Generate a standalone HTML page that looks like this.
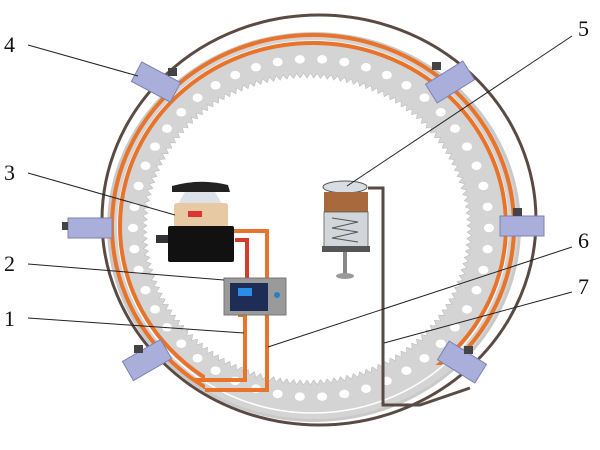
<!DOCTYPE html>
<html><head><meta charset="utf-8"><style>
html,body{margin:0;padding:0;background:#fff;width:600px;height:450px;overflow:hidden}
svg{display:block}
text{font-family:"Liberation Serif",serif;font-size:22px;fill:#111}
</style></head><body>
<svg id="s" width="600" height="450" viewBox="0 0 600 450" xmlns="http://www.w3.org/2000/svg">
<defs><clipPath id="cp"><path d="M0 0 H600 V365 H205 V450 H0 Z"/></clipPath></defs>
<rect width="600" height="450" fill="#fff"/>
<ellipse cx="319" cy="220" rx="217" ry="205" fill="none" stroke="#5a4a44" stroke-width="3"/>
<ellipse cx="314" cy="227" rx="207" ry="195" fill="#c9c9c9"/>
<ellipse cx="314" cy="227" rx="204" ry="192" fill="#d4d4d4"/>
<ellipse cx="313" cy="227" rx="195" ry="186" fill="none" stroke="#fff" stroke-width="1.5"/>
<g id="holes"></g>
<path id="teeth" fill="#fff" stroke="#bdbdbd" stroke-width="0.6"/>
<g fill="none" stroke="#e8732a" stroke-width="4">
<g clip-path="url(#cp)">
<ellipse cx="313" cy="226" rx="201" ry="191"/>
<ellipse cx="313" cy="226" rx="193" ry="183"/>
</g>
<path d="M238 315 L245 315 L245 380 L195 380"/>
<path d="M233 231 L267 231 L267 390 L205 390"/>
</g>
<path d="M235 240 L247 240 L247 280" fill="none" stroke="#d63a2a" stroke-width="4"/>
<path d="M368 188 L383 188 L383 405 L420 405 L470 388" fill="none" stroke="#5a4a44" stroke-width="3"/>
<g fill="#a9aedb" stroke="#7d82b0" stroke-width="1">
<rect x="-22" y="-11" width="44" height="22" transform="translate(156,82) rotate(28)"/>
<rect x="-22" y="-11" width="44" height="22" transform="translate(450,82) rotate(-32)"/>
<rect x="-22" y="-10" width="44" height="20" transform="translate(90,228)"/>
<rect x="-22" y="-10" width="44" height="20" transform="translate(522,226)"/>
<rect x="-22" y="-11" width="44" height="22" transform="translate(147,360) rotate(-30)"/>
<rect x="-22" y="-11" width="44" height="22" transform="translate(462,362) rotate(32)"/>
</g>
<g fill="#444">
<rect x="168" y="68" width="9" height="8"/><rect x="432" y="62" width="9" height="8"/>
<rect x="513" y="208" width="9" height="8"/><rect x="134" y="345" width="9" height="8"/>
<rect x="464" y="346" width="9" height="8"/><rect x="62" y="222" width="6" height="8"/>
</g>
<path d="M172 186 Q200 178 228 185 L230 192 L172 192 Z" fill="#222"/>
<path d="M185 192 L215 192 L222 204 L178 204 Z" fill="#dde2ea"/>
<rect x="174" y="203" width="54" height="25" rx="3" fill="#e7c9a4"/>
<rect x="188" y="211" width="14" height="6" fill="#d33"/>
<rect x="168" y="226" width="66" height="36" rx="2" fill="#111"/>
<rect x="156" y="235" width="12" height="8" fill="#333"/>
<rect x="224" y="278" width="62" height="37" fill="#9a9a9a" stroke="#777"/>
<rect x="230" y="283" width="38" height="28" fill="#1d2d55"/>
<rect x="238" y="288" width="14" height="8" fill="#2a8ee8"/>
<circle cx="277" cy="295" r="3" fill="#2a7ec8"/>
<ellipse cx="345" cy="187" rx="22" ry="6" fill="#d8dde4" stroke="#555"/>
<rect x="324" y="192" width="44" height="20" fill="#a86a3c"/>
<rect x="324" y="212" width="44" height="36" fill="#c8cbd0" stroke="#555" opacity="0.8"/>
<path d="M332 218 L358 222 L332 228 L358 232 L332 238 L358 242" stroke="#555" fill="none"/>
<rect x="322" y="246" width="48" height="6" fill="#555"/>
<rect x="343" y="252" width="4" height="22" fill="#888"/>
<ellipse cx="345" cy="276" rx="9" ry="3" fill="#999"/>
<g stroke="#222" stroke-width="1">
<line x1="28" y1="45" x2="138" y2="76"/>
<line x1="28" y1="173" x2="175" y2="215"/>
<line x1="28" y1="264" x2="224" y2="280"/>
<line x1="28" y1="318" x2="244" y2="333"/>
<line x1="572" y1="36" x2="347" y2="186"/>
<line x1="572" y1="247" x2="268" y2="347"/>
<line x1="572" y1="292" x2="384" y2="343"/>
</g>
<text x="4" y="52">4</text><text x="4" y="180">3</text><text x="4" y="271">2</text><text x="4" y="326">1</text>
<text x="578" y="36">5</text><text x="578" y="248">6</text><text x="578" y="294">7</text>
</svg>
<script>
var ns="http://www.w3.org/2000/svg",g=document.getElementById("holes");
function el(cx,cy,rx,ry,n,r){for(var i=0;i<n;i++){var a=i/n*2*Math.PI,c=document.createElementNS(ns,"ellipse");c.setAttribute("cx",cx+rx*Math.cos(a));c.setAttribute("cy",cy+ry*Math.sin(a));c.setAttribute("rx",r);c.setAttribute("ry",r*0.85);c.setAttribute("fill","#fff");g.appendChild(c);}}
el(311,228,178,169,50,5);
var d="",N=150,cx=307,cy=229,rx=160,ry=151;
for(var i=0;i<=N;i++){var a=i/N*2*Math.PI,a2=(i+0.5)/N*2*Math.PI;
d+=(i?"L":"M")+(cx+(rx+5)*Math.cos(a)).toFixed(1)+" "+(cy+(ry+5)*Math.sin(a)).toFixed(1);
d+="L"+(cx+rx*Math.cos(a2)).toFixed(1)+" "+(cy+ry*Math.sin(a2)).toFixed(1);}
document.getElementById("teeth").setAttribute("d",d+"Z");
</script>
</body></html>
